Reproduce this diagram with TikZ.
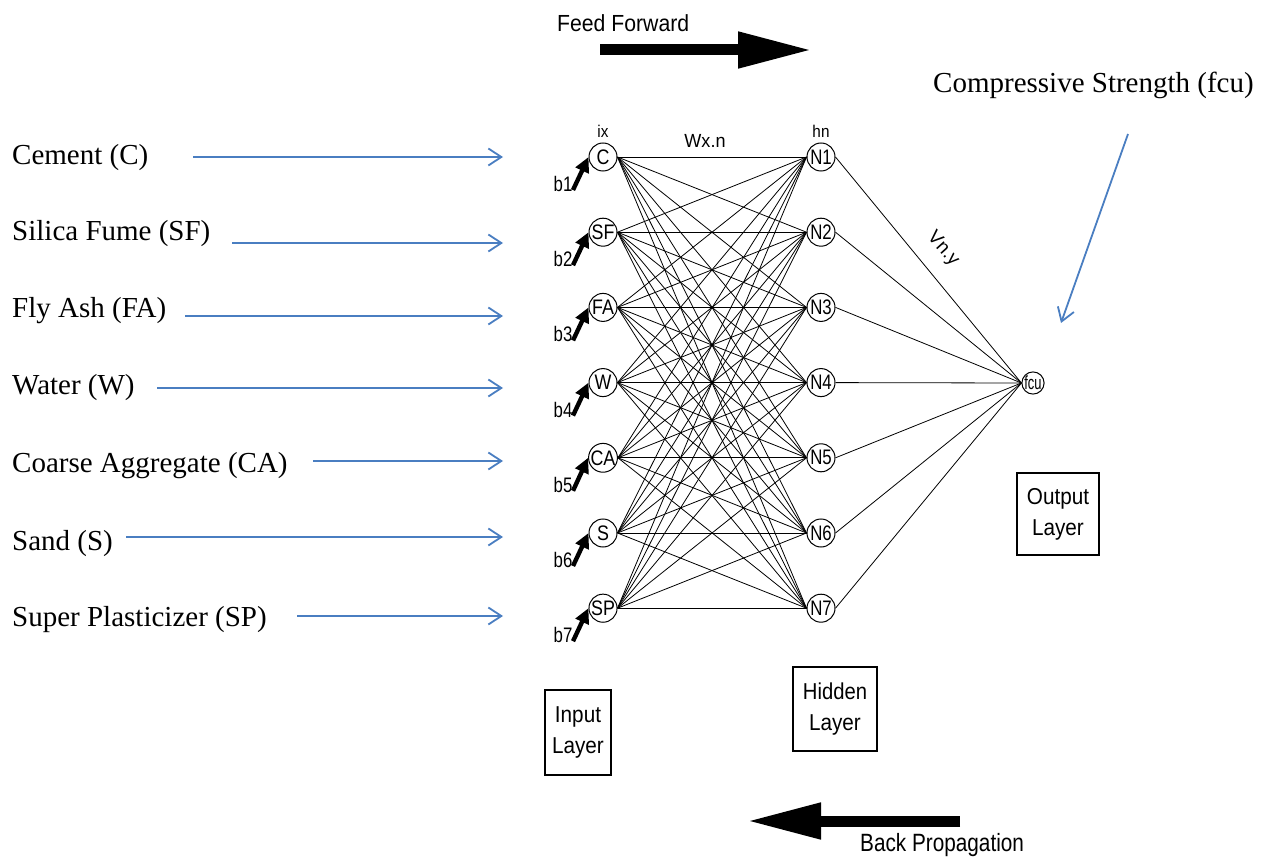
\documentclass[tikz,border=0pt]{standalone}
\usepackage{fontspec}
\usepackage{graphicx}
\setmainfont{Liberation Serif}
\newfontfamily\arialfont{Liberation Sans}
\usetikzlibrary{arrows.meta}
% horizontally condensed sans text
\newcommand{\narrow}[2]{\scalebox{#1}[1]{#2}}
\definecolor{inblue}{RGB}{74,126,193}

\begin{document}
\begin{tikzpicture}[x=1pt,y=-1pt,
  neuron/.style={circle,draw,line width=1pt,minimum size=28pt,inner sep=0pt,
    font=\arialfont\fontsize{21}{21}\selectfont},
  outneuron/.style={circle,draw,line width=1pt,minimum size=22pt,inner sep=0pt,
    font=\arialfont\fontsize{19}{19}\selectfont},
  wire/.style={line width=0.8pt},
  bias/.style={line width=4.4pt,-{Triangle[length=15pt,width=14pt]}},
  blabel/.style={inner sep=0pt,font=\arialfont\fontsize{21}{21}\selectfont},
  smalllabel/.style={inner sep=0pt,font=\arialfont\fontsize{17}{17}\selectfont},
  weightlabel/.style={inner sep=0pt,font=\arialfont\fontsize{19}{19}\selectfont},
  inlabel/.style={inner sep=0pt,anchor=base west,font=\fontsize{29}{30}\selectfont},
  feed/.style={draw=inblue,line width=1.8pt,-{Straight Barb[length=13pt,width=17pt]}},
  layerbox/.style={draw,line width=1.1pt,inner sep=0pt,align=center,
    font=\arialfont\fontsize{23}{31}\selectfont},
  bigarrow/.style={line width=11pt,-{Triangle[length=74pt,width=34pt]}},
  phase/.style={inner sep=0pt,anchor=base west}
]
\useasboundingbox (0,0) rectangle (1270,861);

% input neurons
\foreach \lab [count=\i] in {C,SF,FA,W,CA,S,SP}
  \node[neuron] (i\i) at (603,{157+75.2*(\i-1)}) {\narrow{0.85}{\lab}};

% hidden neurons
\foreach \i in {1,...,7}
  \node[neuron] (h\i) at (821,{157+75.2*(\i-1)}) {\narrow{0.8}{N\i}};

% output neuron
\node[outneuron] (out) at (1033,383) {\narrow{0.68}{fcu}};

% weights input -> hidden
\foreach \i in {1,...,7}
  \foreach \j in {1,...,7}
    \draw[wire] (i\i.east) -- (h\j.west);

% weights hidden -> output
\foreach \j in {1,...,7}
  \draw[wire] (h\j.east) -- (out.west);

% biases
\foreach \i in {1,...,7} {
  \coordinate (bt\i) at (573,{157+75.2*(\i-1)+33});
  \draw[bias] (bt\i) -- (i\i.west);
  \node[blabel] (b\i) at (563,{157+75.2*(\i-1)+27}) {\narrow{0.8}{b\i}};
}

% layer annotations
\node[smalllabel] (ix) at (603,131) {\narrow{0.9}{ix}};
\node[smalllabel] (hn) at (821,131) {\narrow{0.9}{hn}};
\node[weightlabel] (wxn) at (705,141) {\narrow{0.95}{Wx.n}};
\node[weightlabel,rotate=-48] (vny) at (943,249) {Vn.y};

% input variables
\foreach \txt/\base/\sx/\ay [count=\k] in {
    Cement (C)/165/193/157,
    Silica Fume (SF)/241/232/243,
    Fly Ash (FA)/318/185/316,
    Water (W)/394/157/388,
    Coarse Aggregate (CA)/472/313/461,
    Sand (S)/550/126/537,
    Super Plasticizer (SP)/626/297/616} {
  \node[inlabel] (v\k) at (12,\base) {\txt};
  \coordinate (vs\k) at (\sx,\ay);
  \coordinate (ve\k) at (503,\ay);
  \draw[feed] (vs\k) -- (ve\k);
}

% target variable
\node[inlabel] (target) at (933,93) {Compressive Strength (fcu)};
\coordinate (ts) at (1128,134);
\coordinate (te) at (1061,323);
\draw[feed] (ts) -- (te);

% layer boxes
\node[layerbox,minimum width=66pt,minimum height=85pt] (inbox) at (578,732.5)
  {\narrow{0.9}{Input}\\\narrow{0.9}{Layer}};
\node[layerbox,minimum width=84pt,minimum height=84pt] (hidbox) at (835,709)
  {\narrow{0.88}{Hidden}\\\narrow{0.9}{Layer}};
\node[layerbox,minimum width=82pt,minimum height=82pt] (outbox) at (1058,514)
  {\narrow{0.9}{Output}\\\narrow{0.9}{Layer}};

% training directions
\node[phase,font=\arialfont\fontsize{23.3}{24}\selectfont] (fftext) at (557,32)
  {\narrow{0.91}{Feed Forward}};
\coordinate (ffs) at (600,50);
\coordinate (ffe) at (812,50);
\draw[bigarrow] (ffs) -- (ffe);

\node[phase,font=\arialfont\fontsize{25}{26}\selectfont] (bptext) at (860,851)
  {\narrow{0.83}{Back Propagation}};
\coordinate (bps) at (960,821);
\coordinate (bpe) at (747,821);
\draw[bigarrow] (bps) -- (bpe);
\end{tikzpicture}
\end{document}
